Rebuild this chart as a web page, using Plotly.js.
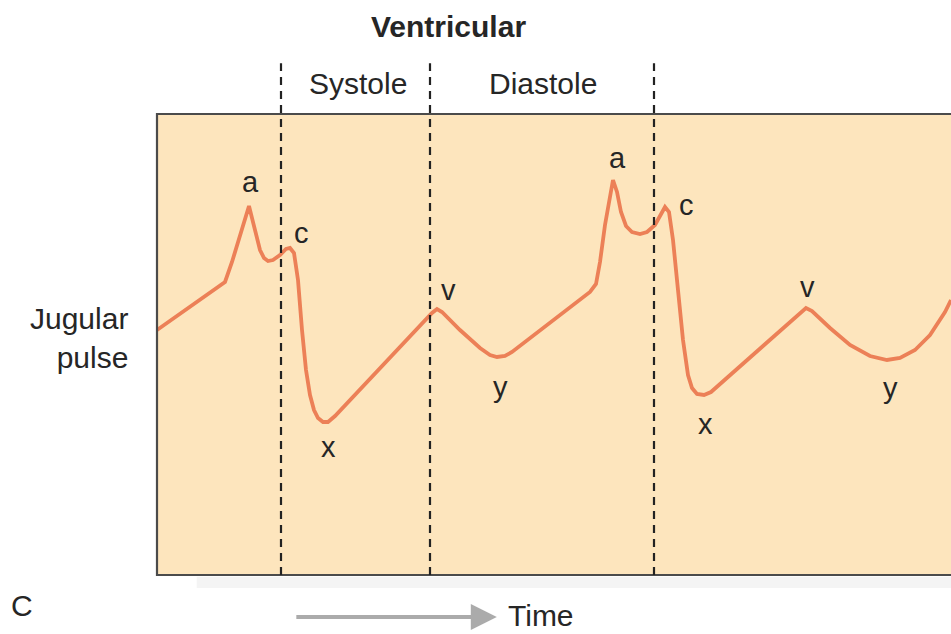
<!DOCTYPE html>
<html>
<head>
<meta charset="utf-8">
<script src="https://cdn.plot.ly/plotly-3.0.1.min.js"></script>
<style>html,body{margin:0;padding:0;background:#fff;}#chart{width:951px;height:634px;}</style>
</head>
<body>
<div id="chart"></div>
<script>
// Time (ms) and jugular venous pressure (arbitrary units)
const timeMs = [0,136,150,166,184,196,206,214,222,232,246,258,266,274,282,290,298,306,314,322,332,342,356,550,560,570,606,646,666,680,696,710,866,878,886,896,906,912,920,928,938,950,966,980,996,1008,1016,1024,1032,1042,1052,1062,1070,1080,1094,1108,1286,1298,1310,1346,1386,1426,1460,1486,1516,1546,1576,1588];
const pressure = [245,293,313,340,369,345,325,317,314,315,320,326,327,322,295,245,205,180,165,157,153,153,159,262,266,263,245,227,220,218,219,223,283,291,313,350,380,395,383,363,349,343,341,343,350,362,368,363,335,285,235,200,187,181,180,183,262,267,264,247,230,219,215,217,225,240,263,275];

// Wave labels
const waveNames = ["a","c","x","v","y","a","c","x","v","y"];
const waveT = [186,288,342,582,686,920,1058,1096,1300,1466];
const waveY = [393,342,128,285,188,417,370,151,288,187];

// Phase boundaries (ms) and labels
const boundaryT = [248,546,994];
const phaseNames = ["Systole","Diastole"];
const phaseX = [0.253,0.486];

const font = "Liberation Sans, Arial, Helvetica, sans-serif";
const ink = "#262626";

const shapes = [
  // soft shadow below the box
  {type:"rect",xref:"paper",yref:"paper",x0:0.05,x1:1.05,y0:-0.028,y1:-0.004,fillcolor:"rgba(0,0,0,0.045)",line:{width:0},layer:"below"},
  // box border
  {type:"rect",xref:"paper",yref:"paper",x0:0,x1:1.02,y0:0,y1:1,line:{color:"#4b4b4b",width:2.2},fillcolor:"rgba(0,0,0,0)",layer:"above"}
];
boundaryT.forEach(t => shapes.push({type:"line",xref:"x",yref:"paper",x0:t,x1:t,y0:0,y1:1.11,
  line:{color:"#222",width:2.2,dash:"8px,6px"},layer:"above"}));

function note(x,y,text,extra){
  return Object.assign({x:x,y:y,xref:"paper",yref:"paper",text:text,showarrow:false,xanchor:"center",yanchor:"middle",
    font:{family:font,size:30,color:ink}},extra||{});
}
const annotations = [];
waveNames.forEach((n,i) => annotations.push({x:waveT[i],y:waveY[i],xref:"x",yref:"y",text:n,showarrow:false,
  xanchor:"center",yanchor:"middle",font:{family:font,size:29,color:ink}}));
annotations.push(note(0.3665,1.189,"<b>Ventricular</b>"));
phaseNames.forEach((n,i) => annotations.push(note(phaseX[i],1.067,n)));
annotations.push(note(-0.034,0.514,"Jugular<br>pulse",{xanchor:"right",align:"right"}));
annotations.push(note(-0.170,-0.066,"C"));
annotations.push(note(0.4836,-0.088,"Time"));
annotations.push({x:0.428,y:-0.091,xref:"paper",yref:"paper",axref:"pixel",ayref:"pixel",ax:-202,ay:0,text:"",showarrow:true,
  arrowhead:2,arrowsize:1.3,arrowwidth:4,arrowcolor:"#ababab"});

const trace = {x:timeMs,y:pressure,type:"scatter",mode:"lines",line:{color:"#ec8057",width:3.8},hoverinfo:"skip"};

const layout = {
  width:951,height:634,
  margin:{l:157,r:0,t:114,b:59,pad:0},
  paper_bgcolor:"#ffffff",plot_bgcolor:"#fde5bd",
  showlegend:false,
  xaxis:{range:[0,1588],showgrid:false,zeroline:false,showticklabels:false,ticks:"",showline:false,fixedrange:true},
  yaxis:{range:[0,461],showgrid:false,zeroline:false,showticklabels:false,ticks:"",showline:false,fixedrange:true},
  shapes:shapes,annotations:annotations
};
Plotly.newPlot("chart",[trace],layout,{staticPlot:true,displayModeBar:false});
</script>
</body>
</html>
